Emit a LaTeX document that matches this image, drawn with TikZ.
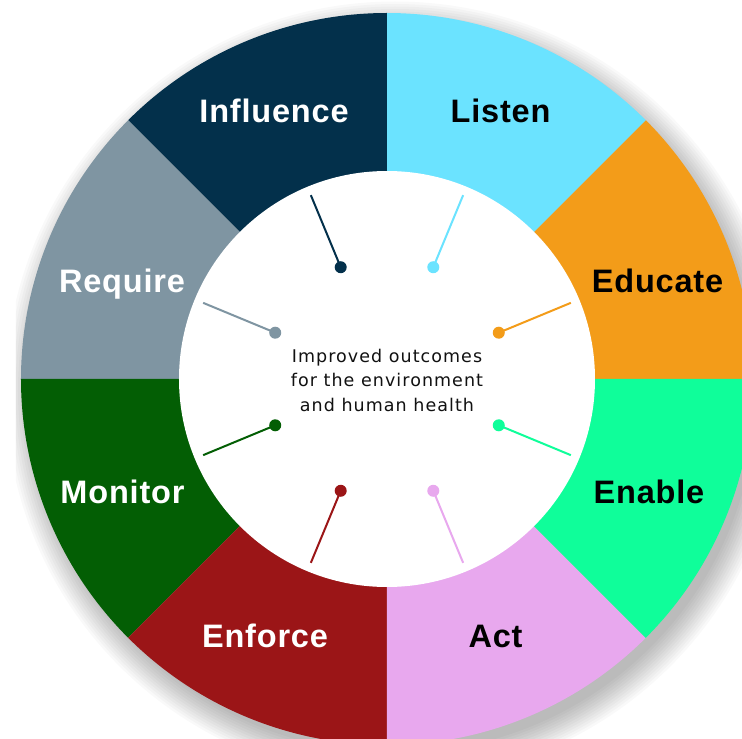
\documentclass[tikz,border=0pt]{standalone}
\usepackage{fontspec}
\setmainfont{Liberation Sans}
\newfontfamily\labelfont[LetterSpace=2.5]{Liberation Sans}
\newfontfamily\goalfont[LetterSpace=6]{DejaVu Sans}
\usepackage{tikz}
\usetikzlibrary{calc}
\definecolor{Influence}{HTML}{03304B}
\definecolor{Listen}{HTML}{6BE3FF}
\definecolor{Educate}{HTML}{F39C19}
\definecolor{Enable}{HTML}{0FFE9A}
\definecolor{Act}{HTML}{E8A8EE}
\definecolor{Enforce}{HTML}{9B1517}
\definecolor{Monitor}{HTML}{035E04}
\definecolor{Require}{HTML}{7F95A2}
\definecolor{Ink}{HTML}{111111}

\tikzset{
  sectorlabel/.style={anchor=base,inner sep=0pt,font=\labelfont\bfseries\fontsize{32.5}{32.5}\selectfont},
  goaltext/.style={anchor=base,inner sep=0pt,text=Ink,font=\goalfont\fontsize{17.5}{17.5}\selectfont},
  pin/.style={line width=2pt}
}

\begin{document}
\begin{tikzpicture}[x=1pt,y=1pt]
  \useasboundingbox (-387,-360) rectangle (355,379);
  \clip (-387,-360) rectangle (355,379);
  \fill[white] (-387,-360) rectangle (355,379);
  \begin{scope}
    \clip (-371,-360) rectangle (355,379);
    \foreach \r in {0,...,11}
    {
      \fill[black,opacity=0.022] (8,-12) circle (362+\r*2.5);
    }
  \end{scope}
  \foreach \c [count=\i from 0] in {Educate,Listen,Influence,Require,Monitor,Enforce,Act,Enable}
  {
    \fill[\c] (0,0) -- (\i*45:366) arc[start angle=\i*45,end angle=\i*45+45,radius=366] -- cycle;
  }
  \fill[white] (0,0) circle (208);
  \foreach \c [count=\i from 0] in {Educate,Listen,Influence,Require,Monitor,Enforce,Act,Enable}
  {
    \coordinate (tip\c) at (\i*45+22.5:199);
    \coordinate (dot\c) at (\i*45+22.5:121);
    \draw[\c,pin] (tip\c) -- (dot\c);
    \fill[\c] (dot\c) circle (6);
  }
  \foreach \c/\x/\y/\t in {
    Influence/-113/256/white, Listen/113.5/256/black,
    Educate/270.5/86/black, Require/-265/86/white,
    Monitor/-264.5/-124/white, Enable/262/-124/black,
    Enforce/-122/-268/white, Act/108.5/-268/black}
  {
    \node[sectorlabel,text=\t] (lab\c) at (\x,\y) {\c};
  }
  \node[goaltext] (goalA) at (0,16.3) {Improved outcomes};
  \node[goaltext] (goalB) at (0,-7.7) {for the environment};
  \node[goaltext] (goalC) at (0,-32) {and human health};
\end{tikzpicture}
\end{document}
